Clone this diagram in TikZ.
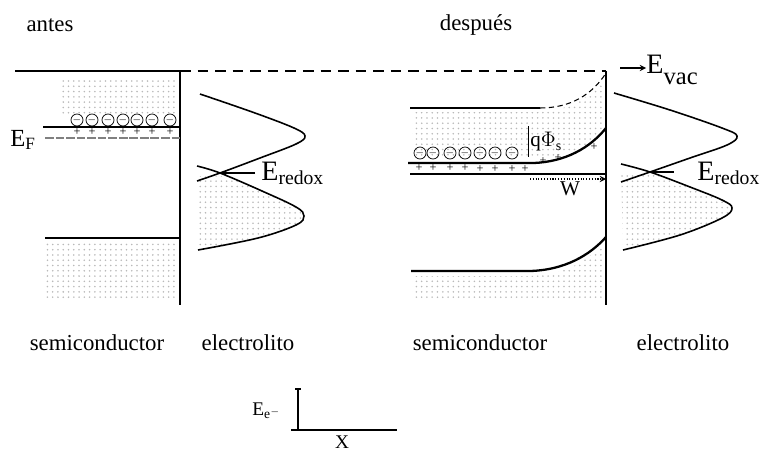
\documentclass[tikz,border=0pt]{standalone}
\usepackage{fontspec}
\setmainfont{Liberation Serif}
\usetikzlibrary{patterns, arrows, calc}

\begin{document}
\begin{tikzpicture}[
    x=0.02cm, y=-0.02cm,
    every node/.style={font=\fontsize{13}{15}\selectfont, inner sep=0pt},
    band/.style={line width=1.3pt},
    thinband/.style={line width=0.6pt},
    wall/.style={line width=1.4pt},
    dos/.style={line width=0.9pt},
    shade/.style={pattern=dots, pattern color=gray!55},
    arrow/.style={->, >=stealth, line width=0.6pt},
    elec/.style={circle, draw, line width=0.4pt, minimum size=4.6pt, font=\fontsize{5}{5}\selectfont},
    hole/.style={font=\fontsize{7}{7}\selectfont},
    biglabel/.style={font=\fontsize{16}{18}\selectfont, anchor=base west},
]
\useasboundingbox (0,0) rectangle (760,450);

% === TITLES ===
\node (antes) at (50,25) {antes};
\node (despues) at (476,25) {después};

% === SHADED STATES ===
\fill[shade] (60,80) rectangle (176,113);
\fill[shade] (46,242) rectangle (176,300);
\fill[shade] (412,112) -- (540,112) .. controls (570,111) and (592,95) .. (604,80)
    -- (604,132) .. controls (590,146) and (565,158) .. (533,158) -- (412,158) -- cycle;
\fill[shade] (412,276) -- (530,276) .. controls (565,275) and (590,260) .. (604,242)
    -- (604,300) -- (412,300) -- cycle;
\begin{scope}
    \clip (190,176) rectangle (330,262);
    \fill[shade] plot[smooth, tension=0.6] coordinates {(197,166) (220,173) (262,191) (296,207) (304,216) (296,225) (258,238) (198,250)} -- cycle;
\end{scope}
\begin{scope}
    \clip (615,175) rectangle (760,262);
    \fill[shade] plot[smooth, tension=0.6] coordinates {(621,164) (650,172) (690,187) (722,200) (732,208) (722,218) (680,235) (623,250)} -- cycle;
\end{scope}

% === ANTES ===
% --- vacuum level and interface ---
\coordinate (vacL) at (15,71);
\coordinate (wallLtop) at (180,71);
\coordinate (wallLbot) at (180,305);
\coordinate (wallRtop) at (606,71);
\coordinate (wallRbot) at (606,305);
\draw[thinband] (vacL) -- (wallLtop);
\draw[thinband, dashed, dash pattern=on 6pt off 4pt] (wallLtop) -- (wallRtop);
\draw[wall] (wallLtop) -- (wallLbot);

% --- bands ---
\draw[band] (43,127) -- (180,127);
\draw[gray, line width=0.8pt, dash pattern=on 5pt off 1pt] (45,138) -- (180,138);
\draw[band, line width=1pt] (45,238) -- (180,238);
\foreach \x in {77,92,108,123,137,152,170} {
    \node[elec] at (\x,120) {$-$};
    \node[hole] at (\x,132) {+};
}
\node[anchor=base west, font=\fontsize{14}{16}\selectfont] (ef) at (10,146) {E$_{\mathrm{F}}$};

% --- electrolyte ---
\draw[dos] plot[smooth, tension=0.6] coordinates {(200,94) (255,113) (294,128) (305,136) (296,144) (260,158) (220,173) (197,181)};
\draw[dos] plot[smooth, tension=0.6] coordinates {(197,166) (220,173) (262,191) (296,207) (304,216) (296,225) (258,238) (198,250)};
\coordinate (crossL) at (221,173);
\node[biglabel] (redoxL) at (261,180) {E$_{\mathrm{redox}}$};
\draw[arrow] (redoxL.west |- crossL) ++(-6,0) -- (crossL);

% === DESPUES ===
\draw[wall] (wallRtop) -- (wallRbot);

% --- bands ---
\draw[thinband] (410,108) -- (540,108);
\draw[thinband, dashed, dash pattern=on 3pt off 2pt] (540,108) .. controls (570,108) and (592,95) .. (606,73);
\draw[band] (408,163) -- (533,163) .. controls (565,162) and (590,148) .. (606,128);
\draw[thinband] (410,174) -- (606,174);
\draw[band] (411,271) -- (530,271) .. controls (565,270) and (590,255) .. (606,237);
\foreach \x in {420,433,450,465,480,495,512} {
    \node[elec] at (\x,153) {$-$};
}
\foreach \x/\y in {419/168,433/168,450/168,465/168,480/169,495/169,512/169,525/169,543/161,558/158,594/147} {
    \node[hole] at (\x,\y) {+};
}

% --- barrier and depletion width ---
\coordinate (phiTop) at (528,126);
\coordinate (phiBot) at (528,157);
\draw[line width=0.5pt] (phiTop) -- (phiBot);
\node[anchor=west, font=\fontsize{12}{14}\selectfont] (phis) at (530,142) {q$\Phi_{\mathrm{s}}$};
\coordinate (wStart) at (530,179);
\coordinate (wEnd) at (606,179);
\draw[arrow, densely dotted] (wStart) -- (wEnd);
\node[font=\fontsize{12}{14}\selectfont] (w) at (570,189) {W};

% --- electrolyte ---
\draw[dos] plot[smooth, tension=0.6] coordinates {(614,93) (670,110) (722,128) (737,136) (727,145) (690,158) (650,172) (621,182)};
\draw[dos] plot[smooth, tension=0.6] coordinates {(621,164) (650,172) (690,187) (722,200) (732,208) (722,218) (680,235) (623,250)};
\coordinate (crossR) at (650,172);
\node[biglabel] (redoxR) at (697,180) {E$_{\mathrm{redox}}$};
\draw[line width=0.6pt] (crossR) -- ++(24,0);

% --- vacuum label ---
\coordinate (vacR) at (620,68);
\node[biglabel] (evac) at (646,73) {E\raisebox{-0.4em}{\fontsize{14}{16}\selectfont vac}};
\draw[arrow] (vacR) -- (evac.west |- vacR);

% === BOTTOM LABELS ===
\node[anchor=base] (scL) at (97,350) {semiconductor};
\node[anchor=base] (elL) at (248,350) {electrolito};
\node[anchor=base] (scR) at (480,350) {semiconductor};
\node[anchor=base] (elR) at (683,350) {electrolito};

% === AXES ===
\coordinate (ax0) at (298,430);
\coordinate (axE) at (298,389);
\coordinate (axX) at (397,430);
\draw[line width=0.8pt] (axE) -- (ax0) -- (axX);
\draw[line width=0.8pt] ($(axE)+(-3,0)$) -- ($(axE)+(3,0)$);
\draw[line width=0.8pt] ($(ax0)+(-7,0)$) -- (ax0);
\node[anchor=base west, font=\fontsize{11}{13}\selectfont] (ee) at (252,415) {E$_{\mathrm{e}^-}$};
\node[anchor=base, font=\fontsize{11}{13}\selectfont] (xlab) at (342,448) {X};
\end{tikzpicture}
\end{document}
